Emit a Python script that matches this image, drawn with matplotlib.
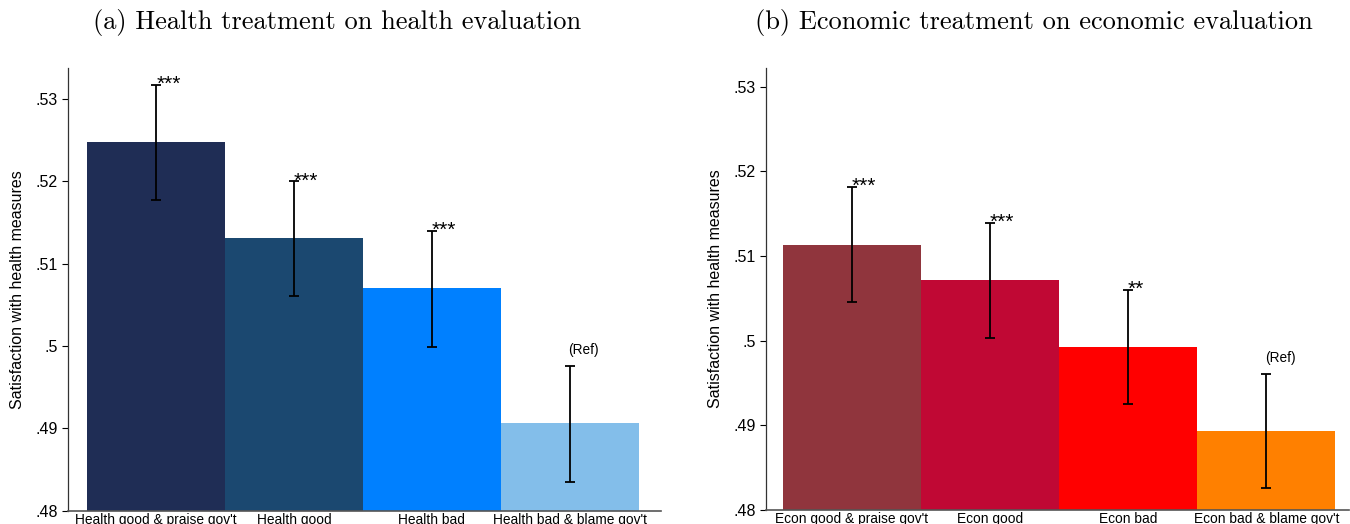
import matplotlib
matplotlib.use("Agg")
import matplotlib.pyplot as plt
import numpy as np

plt.rcParams['font.family'] = ['Liberation Sans', 'DejaVu Sans']

# Panel (a): health treatment
health_labels = ["Health good & praise gov't", "Health good", "Health bad", "Health bad & blame gov't"]
health_means = [0.5248, 0.5131, 0.5071, 0.4907]
health_lo = [0.5178, 0.5061, 0.4999, 0.4835]
health_hi = [0.5317, 0.5200, 0.5140, 0.4976]
health_stars = ["***", "***", "***", "(Ref)"]
health_colors = ["#1f2d55", "#1b4870", "#0080ff", "#83beea"]

# Panel (b): economic treatment
econ_labels = ["Econ good & praise gov't", "Econ good", "Econ bad", "Econ bad & blame gov't"]
econ_means = [0.5113, 0.5072, 0.4992, 0.4893]
econ_lo = [0.5046, 0.5003, 0.4925, 0.4826]
econ_hi = [0.5181, 0.5139, 0.5060, 0.4961]
econ_stars = ["***", "***", "**", "(Ref)"]
econ_colors = ["#90353d", "#c00834", "#ff0000", "#ff8000"]

yticks = [0.48, 0.49, 0.50, 0.51, 0.52, 0.53]
ytick_labels = [".48", ".49", ".5", ".51", ".52", ".53"]

fig = plt.figure(figsize=(13.5, 5.24), dpi=100)
ax1 = fig.add_axes([0.0504, 0.0254, 0.439, 0.845])
ax2 = fig.add_axes([0.5674, 0.0267, 0.432, 0.8435])


def draw_panel(ax, labels, means, lo, hi, stars, colors, xlim, ylim):
    x = np.arange(len(labels))
    ax.bar(x, [m - ylim[0] for m in means], bottom=ylim[0], width=1.0,
           color=colors, edgecolor='none')
    yerr = [np.array(means) - np.array(lo), np.array(hi) - np.array(means)]
    ax.errorbar(x, means, yerr=yerr, fmt='none', ecolor='black',
                elinewidth=1.3, capsize=3.6, capthick=1.3)
    for xi, top, s in zip(x, hi, stars):
        if s == "(Ref)":
            ax.annotate(s, (xi, top), xytext=(-1, 8.5), textcoords='offset points',
                        ha='left', va='baseline', fontsize=9.8)
        else:
            ax.annotate(s, (xi, top), xytext=(0, -3.5), textcoords='offset points',
                        ha='left', va='baseline', fontsize=15)
    ax.set_xlim(*xlim)
    ax.set_ylim(*ylim)
    ax.set_xticks(x)
    ax.set_xticklabels(labels, fontsize=9.9)
    ax.tick_params(axis='x', length=0, pad=1.5)
    ax.set_yticks(yticks)
    ax.set_yticklabels(ytick_labels, fontsize=11.5)
    ax.tick_params(axis='y', length=4.5, width=0.8, direction='out', pad=3)
    ax.set_ylabel("Satisfaction with health measures", fontsize=11.5, labelpad=7)
    for side in ['top', 'right']:
        ax.spines[side].set_visible(False)
    ax.spines['left'].set_color('#333333')
    ax.spines['bottom'].set_color('#555555')
    ax.spines['left'].set_linewidth(0.9)
    ax.spines['bottom'].set_linewidth(1.2)


draw_panel(ax1, health_labels, health_means, health_lo, health_hi, health_stars,
           health_colors, (-0.64, 3.66), (0.48, 0.5338))
draw_panel(ax2, econ_labels, econ_means, econ_lo, econ_hi, econ_stars,
           econ_colors, (-0.62, 3.6), (0.48, 0.5322))

fig.text(0.25, 0.958, "(a) Health treatment on health evaluation",
         family='cmr10', fontsize=19, ha='center', va='center')
fig.text(0.766, 0.958, "(b) Economic treatment on economic evaluation",
         family='cmr10', fontsize=19, ha='center', va='center')

fig.savefig("out.png", dpi=100)
